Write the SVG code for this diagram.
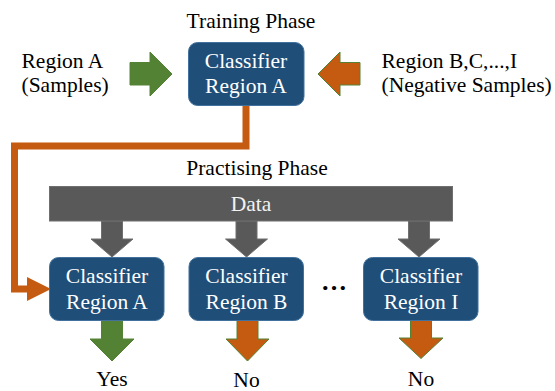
<svg xmlns="http://www.w3.org/2000/svg" width="555" height="391" viewBox="0 0 555 391" font-family="'Liberation Serif', 'DejaVu Serif', serif">
<defs>
<style>
text{font-family:'Liberation Serif','Times New Roman','DejaVu Serif',serif;font-size:21.5px;fill:#000}
.box{fill:#1F4E79;stroke:#41719C;stroke-width:1}
.bt{fill:#fff;text-anchor:middle}
.green{fill:#548235;stroke:#548235;stroke-width:1}
.orange{fill:#C55A11;stroke:#548235;stroke-width:1}
.gray{fill:#595959;stroke:#6f6f6f;stroke-width:1}
.conn{fill:none;stroke:#C55A11;stroke-width:7;stroke-linejoin:miter}
</style>
<marker id="ah" markerUnits="userSpaceOnUse" markerWidth="24" markerHeight="24" viewBox="0 0 22 22" refX="0" refY="11" orient="auto">
<path d="M0,0 L22,11 L0,22 Z" fill="#C55A11"/>
</marker>
</defs>
<rect width="555" height="391" fill="#fff"/>
<g id="labels">
<text x="251" y="28" text-anchor="middle">Training Phase</text>
<text x="21.5" y="68">Region A</text>
<text x="21.5" y="92">(Samples)</text>
<text x="381.5" y="68">Region B,C,...,I</text>
<text x="381.5" y="92">(Negative Samples)</text>
<text x="257" y="175" text-anchor="middle">Practising Phase</text>
<text x="334" y="290" text-anchor="middle" style="font-size:26px;font-weight:bold">…</text>
<text x="112" y="386" text-anchor="middle">Yes</text>
<text x="246.5" y="387" text-anchor="middle">No</text>
<text x="421" y="386" text-anchor="middle">No</text>
</g>
<g id="connectors">
<path class="conn" d="M246,105 V146 H14.5 V289 H27" marker-end="url(#ah)"/>
<polygon class="green" points="130,62.5 150,62.5 150,52 172,74 150,96 150,85 130,85"/>
<polygon class="orange" points="360,62.5 340,62.5 340,52 318,74 340,96 340,85 360,85"/>
<polygon class="gray" points="101.5,221 122.5,221 122.5,239 133,239 112,257 91,239 101.5,239"/>
<polygon class="gray" points="236,221 257,221 257,239 267.5,239 246.5,257 225.5,239 236,239"/>
<polygon class="gray" points="408.5,221 429.5,221 429.5,239 440,239 419,257 398,239 408.5,239"/>
<polygon class="green" points="101.5,320 122.5,320 122.5,339 134,339 112,361 90,339 101.5,339"/>
<polygon class="orange" points="237,320 258,320 258,339 269,339 247.5,361 226,339 237,339"/>
<polygon class="orange" points="410.5,317 431.5,317 431.5,338 443,338 421,358.5 399,338 410.5,338"/>
</g>
<g id="node-train">
<rect class="box" x="188.5" y="42.5" width="115.5" height="63" rx="9"/>
<text class="bt" x="246" y="68">Classifier</text>
<text class="bt" x="246" y="93">Region A</text>
</g>
<g id="node-data">
<rect class="gray" x="49.5" y="186.5" width="403" height="34.5"/>
<text x="251" y="211" text-anchor="middle" style="fill:#f2f2f2">Data</text>
</g>
<g id="node-a">
<rect class="box" x="49.5" y="257.5" width="114.5" height="63" rx="9"/>
<text class="bt" x="107" y="283">Classifier</text>
<text class="bt" x="107" y="309">Region A</text>
</g>
<g id="node-b">
<rect class="box" x="189" y="257.5" width="114.5" height="63" rx="9"/>
<text class="bt" x="246.5" y="283">Classifier</text>
<text class="bt" x="246.5" y="309">Region B</text>
</g>
<g id="node-i">
<rect class="box" x="363.5" y="257.5" width="114.5" height="63" rx="9"/>
<text class="bt" x="421" y="283">Classifier</text>
<text class="bt" x="421" y="309">Region I</text>
</g>
</svg>
